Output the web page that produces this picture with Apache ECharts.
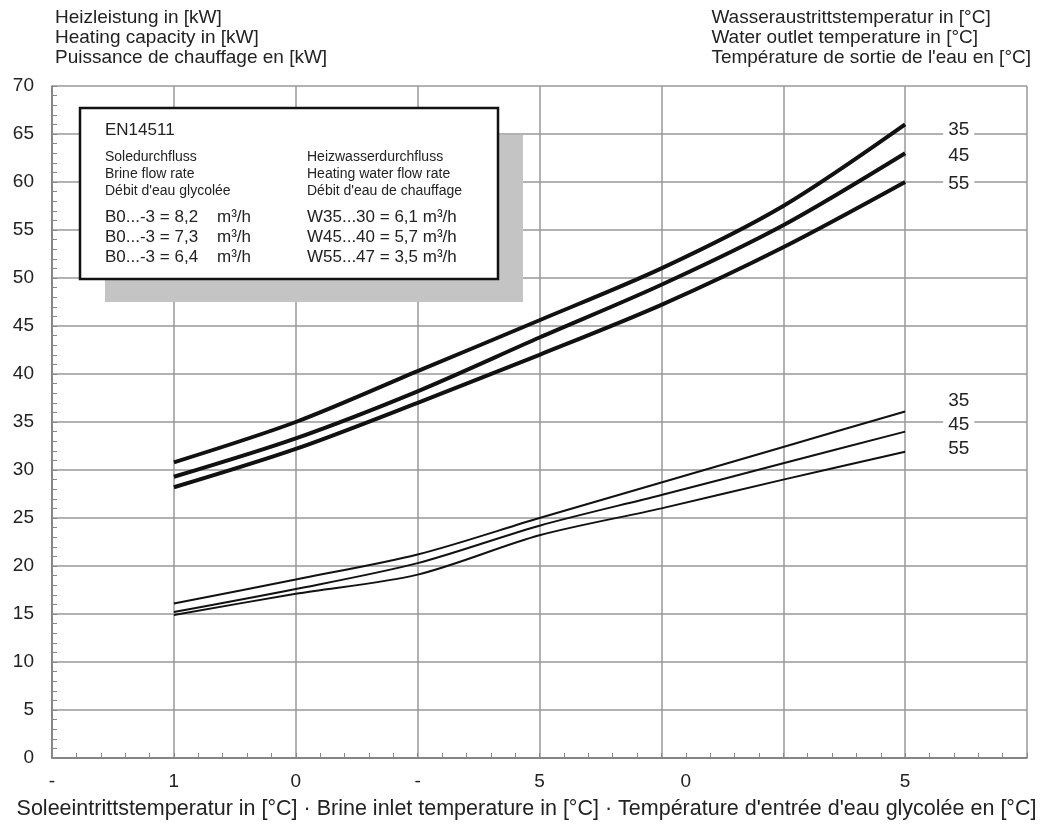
<!DOCTYPE html>
<html>
<head>
<meta charset="utf-8">
<script src="https://cdn.jsdelivr.net/npm/echarts@6/dist/echarts.min.js"></script>
<style>
  html, body { margin: 0; padding: 0; background: #fff; }
  #chartView { width: 1053px; height: 832px; }
</style>
</head>
<body>
<div id="chartView"></div>
<script>
// Soletemperatur (x)
var brineTemp = [-15, -10, -5, 0, 5, 10, 15];

// Heizleistung, dick = obere Kurven, duenn = untere Kurven
var thick35 = [30.8, 35.0, 40.3, 45.6, 51.0, 57.5, 66.0];
var thick45 = [29.3, 33.3, 38.2, 43.8, 49.3, 55.5, 63.0];
var thick55 = [28.2, 32.2, 37.0, 42.0, 47.2, 53.2, 60.0];
var thin35 = [16.1, 18.6, 21.2, 25.0, 28.7, 32.4, 36.1];
var thin45 = [15.2, 17.6, 20.3, 24.2, 27.4, 30.7, 34.0];
var thin55 = [14.9, 17.1, 19.1, 23.2, 26.0, 29.0, 31.9];

// x-Achsenbeschriftung wie im Original (abgeschnitten)
var xLabelPos = [-20, -15, -10, -5, 0, 6, 15];
var xLabelText = ['-', '1', '0', '-', '5', '0', '5'];

var fontName = 'Liberation Sans, Arial, sans-serif';

function pairs(vals) {
    var arr = [];
    for (var i = 0; i < brineTemp.length; i++) arr.push([brineTemp[i], vals[i]]);
    return arr;
}

function makeLine(name, vals, width, labelOffsetY) {
    return {
        name: name,
        type: 'line',
        smooth: 0.3,
        symbol: 'none',
        lineStyle: { color: '#111', width: width },
        endLabel: {
            show: true,
            formatter: name,
            color: '#222',
            fontSize: 19,
            fontFamily: fontName,
            offset: [30, labelOffsetY],
            backgroundColor: '#fff',
            padding: [0, 5]
        },
        data: pairs(vals)
    };
}

var myChart1 = echarts.init(document.getElementById('chartView'));

var option = {
    backgroundColor: '#fff',
    animation: false,
    grid: { left: 52, right: 26, top: 86, bottom: 74 },
    xAxis: {
        type: 'value',
        min: -20,
        max: 20,
        interval: 5,
        axisLine: { show: true, onZero: false, lineStyle: { color: '#777', width: 1.5 } },
        axisTick: { show: true, inside: true, length: 5, lineStyle: { color: '#888' } },
        minorTick: { show: true, splitNumber: 5, length: 5, lineStyle: { color: '#888' } },
        splitLine: { show: true, lineStyle: { color: '#999', width: 1.5 } },
        axisLabel: {
            customValues: xLabelPos,
            margin: 14,
            fontSize: 19,
            color: '#222',
            fontFamily: fontName,
            formatter: function (v) {
                var i = xLabelPos.indexOf(v);
                return i >= 0 ? xLabelText[i] : '';
            }
        }
    },
    yAxis: {
        type: 'value',
        min: 0,
        max: 70,
        interval: 5,
        axisLine: { show: true, onZero: false, lineStyle: { color: '#777', width: 1.5 } },
        axisTick: { show: true, inside: true, length: 5, lineStyle: { color: '#888' } },
        minorTick: { show: true, splitNumber: 5, length: 5, lineStyle: { color: '#888' } },
        splitLine: { show: true, lineStyle: { color: '#999', width: 1.5 } },
        axisLabel: { fontSize: 19, color: '#222', fontFamily: fontName, margin: 18 }
    },
    graphic: [
        // Achsentitel
        { type: 'text', left: 55, top: 8, style: { text: 'Heizleistung in [kW]\nHeating capacity in [kW]\nPuissance de chauffage en [kW]', font: '19px ' + fontName, fill: '#222', lineHeight: 20 } },
        { type: 'text', right: 22, top: 8, style: { text: 'Wasseraustrittstemperatur in [°C]\nWater outlet temperature in [°C]\nTempérature de sortie de l\'eau en [°C]', font: '19px ' + fontName, fill: '#222', lineHeight: 20, align: 'right' } },
        { type: 'text', left: 'center', top: 798, style: { text: 'Soleeintrittstemperatur in [°C] · Brine inlet temperature in [°C] · Température d\'entrée d\'eau glycolée en [°C]', font: '21.5px ' + fontName, fill: '#222' } },
        // Infobox mit Schatten
        { type: 'rect', shape: { x: 105, y: 135, width: 418, height: 167 }, style: { fill: '#c4c4c4' }, z: 10 },
        { type: 'rect', shape: { x: 80, y: 108, width: 418, height: 171 }, style: { fill: '#fff', stroke: '#111', lineWidth: 2.5 }, z: 11 },
        { type: 'text', x: 105, y: 122, z: 12, style: { text: 'EN14511', font: '17px ' + fontName, fill: '#222' } },
        { type: 'text', x: 105, y: 149, z: 12, style: { text: 'Soledurchfluss\nBrine flow rate\nDébit d\'eau glycolée', font: '14px ' + fontName, fill: '#222', lineHeight: 17 } },
        { type: 'text', x: 307, y: 149, z: 12, style: { text: 'Heizwasserdurchfluss\nHeating water flow rate\nDébit d\'eau de chauffage', font: '14px ' + fontName, fill: '#222', lineHeight: 17 } },
        { type: 'text', x: 105, y: 207, z: 12, style: { text: 'B0...-3 = 8,2    m³/h\nB0...-3 = 7,3    m³/h\nB0...-3 = 6,4    m³/h', font: '17px ' + fontName, fill: '#222', lineHeight: 20 } },
        { type: 'text', x: 307, y: 207, z: 12, style: { text: 'W35...30 = 6,1 m³/h\nW45...40 = 5,7 m³/h\nW55...47 = 3,5 m³/h', font: '17px ' + fontName, fill: '#222', lineHeight: 20 } }
    ],
    series: [
        makeLine('35', thick35, 4, 5),
        makeLine('45', thick45, 4, 3),
        makeLine('55', thick55, 4, 2),
        makeLine('35', thin35, 2, -11),
        makeLine('45', thin45, 2, -7),
        makeLine('55', thin55, 2, -3)
    ]
};

myChart1.setOption(option);
</script>
</body>
</html>
